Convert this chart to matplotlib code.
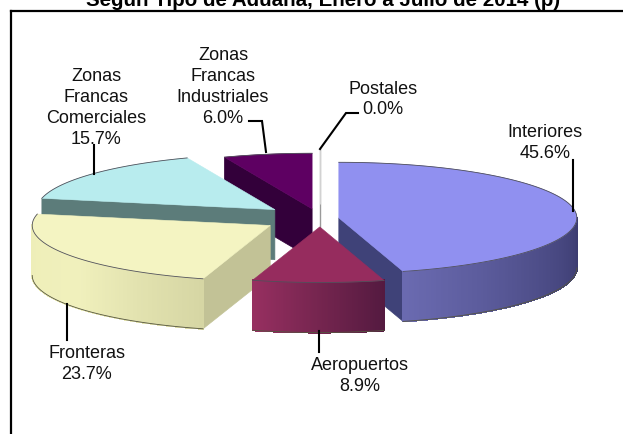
import numpy as np
import matplotlib
matplotlib.use("Agg")
import matplotlib.pyplot as plt
from matplotlib.colors import LinearSegmentedColormap
from matplotlib.collections import PolyCollection
from matplotlib.patches import Polygon

plt.rcParams['font.family'] = ['Liberation Sans', 'DejaVu Sans']

# Data
categories = ["Interiores", "Aeropuertos", "Fronteras", "Zonas\nFrancas\nComerciales",
              "Zonas\nFrancas\nIndustriales", "Postales"]
values = [45.6, 8.9, 23.7, 15.7, 6.0, 0.0]
title = "Según Tipo de Aduana, Enero a Julio de 2014 (p)"

# Styles
explode = [19, 36, 58, 59, 42, 60]
top_colors = ["#9090F0", "#962C5E", "#F4F4C2", "#B8ECEE", "#5E0062", "#FFFFFF"]
face_colors = ["#3F4278", "#5A1A40", "#C2C296", "#5C7C7A", "#33003A", "#FFFFFF"]
wall_stops = [["#3A3A6E", "#50508C", "#6A6AB0"],
              ["#541A40", "#75254F", "#962F60"],
              ["#D6D6A4", "#F0F0BC", "#EEEEB8"],
              ["#5C7C7A", "#5C7C7A", "#5C7C7A"],
              ["#33003A", "#33003A", "#33003A"],
              ["#FFFFFF", "#FFFFFF", "#FFFFFF"]]
draw_order = [4, 5, 3, 0, 2, 1]
CX, CY, A, B, DEPTH = 320, 219.5, 238, 55.6, 50

fig = plt.figure(figsize=(6.23, 4.35), dpi=100, facecolor="white")
ax = fig.add_axes([0, 0, 1, 1])
ax.set_xlim(0, 623)
ax.set_ylim(435, 0)
ax.axis("off")

shares = np.array(values) / np.sum(values) * 360
ends = np.cumsum(shares)
starts = ends - shares


def rim(t, ox, oy, dz=0.0):
    r = np.radians(t)
    return np.column_stack([ox + A * np.sin(r), oy - B * np.cos(r) + dz])


for i in draw_order:
    t1, t2 = starts[i], ends[i]
    mid = np.radians((t1 + t2) / 2)
    ox = CX + explode[i] * np.sin(mid)
    oy = CY - explode[i] * (B / A) * np.cos(mid)
    apex = np.array([ox, oy])
    down = np.array([0, DEPTH])
    z = 1 + draw_order.index(i)
    for t, vis in ((t1, np.sin(np.radians(t1)) < -1e-6), (t2, np.sin(np.radians(t2)) > 1e-6)):
        if vis:
            p = rim(np.array([t]), ox, oy)[0]
            ax.add_patch(Polygon([apex, p, p + down, apex + down], closed=True,
                                 fc=face_colors[i], ec=face_colors[i], lw=0.5, zorder=z))
    # outer wall (front-facing part only)
    lo, hi = max(t1, 90), min(t2, 270)
    if hi > lo:
        ts = np.linspace(lo, hi, 120)
        top = rim(ts, ox, oy)
        bot = top + down
        cmap = LinearSegmentedColormap.from_list("w", wall_stops[i])
        quads = [[top[k], top[k + 1], bot[k + 1], bot[k]] for k in range(len(ts) - 1)]
        cols = [cmap(k / (len(ts) - 2)) for k in range(len(ts) - 1)]
        ax.add_collection(PolyCollection(quads, facecolors=cols, edgecolors=cols, linewidths=0.8,
                                         antialiaseds=False, zorder=z))
        ax.plot(bot[:, 0], bot[:, 1], color="#555540", lw=0.6, zorder=z)
    # top surface
    ts = np.linspace(t1, t2, 120)
    arc = rim(ts, ox, oy)
    ax.add_patch(Polygon(np.vstack([apex, arc]), closed=True, fc=top_colors[i],
                         ec=top_colors[i], lw=0.4, zorder=z + 0.1))
    ax.plot(arc[:, 0], arc[:, 1], color="#50505a", lw=0.6, zorder=z + 0.2)
    if shares[i] == 0:
        p = arc[0]
        ax.plot([p[0], p[0]], [p[1], oy + DEPTH], color="#9a9a9a", lw=1.0, zorder=z)

# Leader lines
leaders = [([573, 573], [161, 212]),
           ([319, 319], [332, 353]),
           ([67, 67], [305, 341]),
           ([94, 94], [146, 175]),
           ([249, 262, 266], [122, 122, 153]),
           ([358, 346, 320], [114, 114, 150])]
for lx, ly in leaders:
    ax.plot(lx, ly, color="black", lw=1.5, zorder=20, solid_joinstyle="miter")

# Labels
label_pos = [(545, 143), (360, 376), (87, 364), (96, 108), (223, 87), (383, 99.5)]
for name, v, (x, y) in zip(categories, values, label_pos):
    ax.text(x, y, f"{name}\n{v:.1f}%", ha="center", va="center", fontsize=13,
            color="#111111", linespacing=1.29, zorder=21)

ax.text(323, 6, title, ha="center", va="baseline", fontsize=14.8, fontweight="bold", color="black")

# Frame
ax.plot([11, 11], [435, 12], color="black", lw=1.6, zorder=30, solid_capstyle="projecting")
ax.plot([11, 623], [12, 12], color="black", lw=1.6, zorder=30, solid_capstyle="projecting")

fig.savefig("out.png", dpi=100, facecolor="white")
